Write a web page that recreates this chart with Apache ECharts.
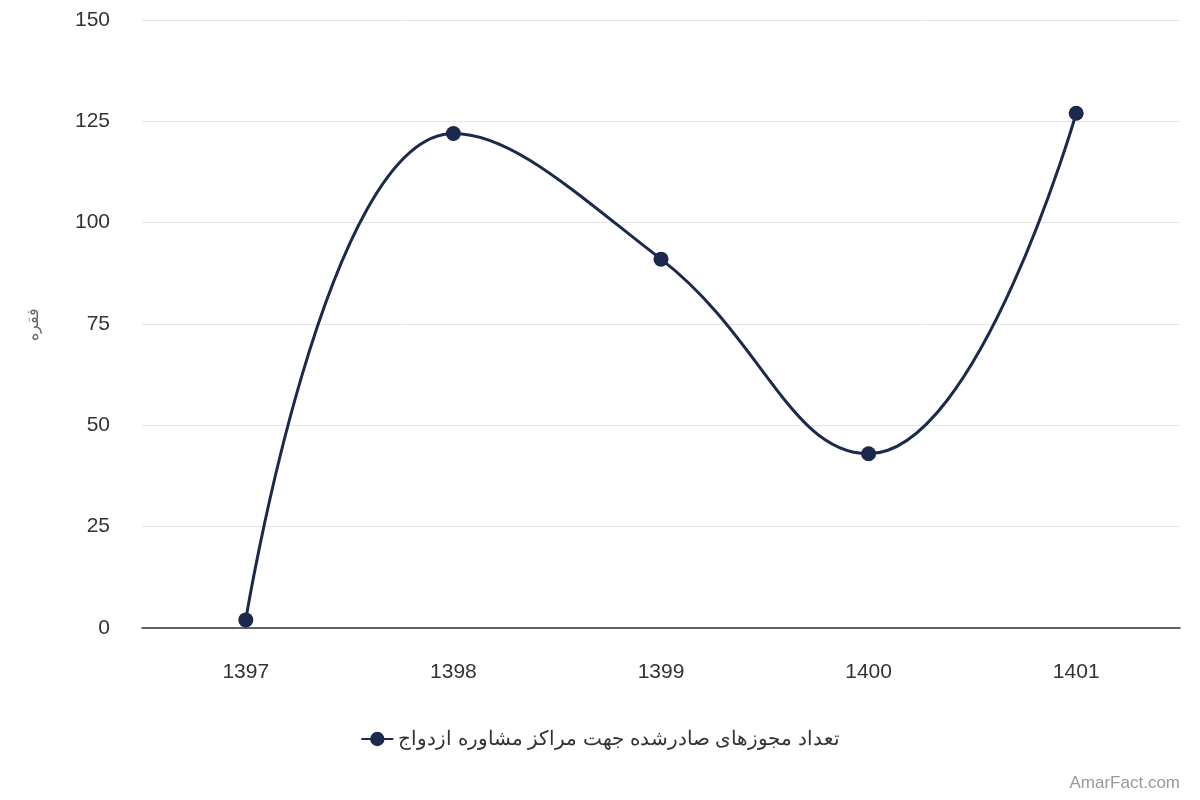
<!DOCTYPE html>
<html>
<head>
<meta charset="utf-8">
<script src="https://cdn.jsdelivr.net/npm/echarts@6/dist/echarts.min.js"></script>
<style>
html,body{margin:0;padding:0;background:#fff;}
#chart{width:1200px;height:800px;}
</style>
</head>
<body>
<div id="chart"></div>
<script>
// data
let years=["1397","1398","1399","1400","1401"];
let counts=[2,122,91,43,127];
let seriesName="تعداد مجوزهای صادرشده جهت مراکز مشاوره ازدواج";

let myChart=echarts.init(document.getElementById("chart"));
let option={
    animation:false,
    grid:{
        left:142,
        right:20,
        top:20,
        bottom:172
    },
    xAxis:{
        type:"category",
        data:years,
        boundaryGap:true,
        axisLine:{lineStyle:{color:"#333333",width:1.5}},
        axisTick:{show:false},
        axisLabel:{color:"#333333",fontSize:21,margin:34,fontFamily:"Liberation Sans"}
    },
    yAxis:{
        type:"value",
        min:0,
        max:150,
        interval:25,
        name:"فقره",
        nameLocation:"middle",
        nameGap:100,
        nameRotate:90,
        nameTextStyle:{color:"#666666",fontSize:16,fontFamily:"Liberation Sans"},
        axisLine:{show:false},
        axisTick:{show:false},
        axisLabel:{color:"#333333",fontSize:21,margin:32,fontFamily:"Liberation Sans"},
        splitLine:{lineStyle:{color:"#e6e6e6",width:1}}
    },
    legend:{
        bottom:46,
        left:"center",
        itemWidth:32,
        itemHeight:18,
        textStyle:{color:"#333333",fontSize:20,fontFamily:"Liberation Sans"},
        data:[seriesName]
    },
    graphic:[{
        type:"text",
        right:20,
        bottom:8,
        style:{text:"AmarFact.com",fill:"#999999",fontSize:17,fontFamily:"Liberation Sans"}
    }],
    series:[{
        name:seriesName,
        type:"line",
        data:counts,
        smooth:0.45,
        symbol:"circle",
        symbolSize:15,
        color:"#1b2a4c",
        lineStyle:{width:3,color:"#1b2a4c"},
        itemStyle:{color:"#1b2a4c"}
    }]
};
myChart.setOption(option);
</script>
</body>
</html>
